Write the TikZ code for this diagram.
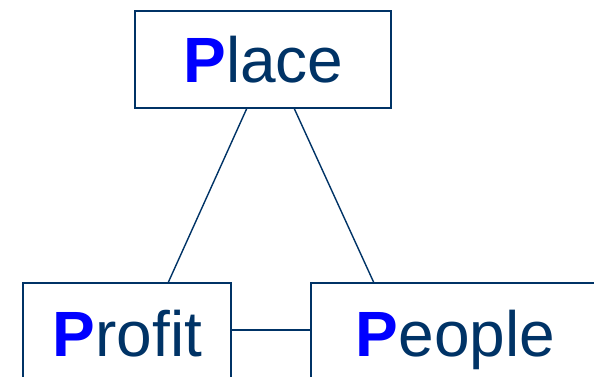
\documentclass[tikz,border=0pt]{standalone}
\usepackage{fontspec}
\setmainfont{Liberation Sans}
\definecolor{navy}{HTML}{003366}
\definecolor{pblue}{HTML}{0000FF}
\begin{document}
\begin{tikzpicture}[x=1pt,y=-1pt,
  box/.style={draw=navy,line width=1.4pt,inner sep=0pt,outer sep=0pt,fill=white},
  word/.style={anchor=base,inner sep=0pt,text=navy,font=\fontsize{64}{70}\selectfont},
  link/.style={draw=navy,line width=1.4pt}]
\useasboundingbox (0,0) rectangle (594,377);
\clip (0,0) rectangle (594,377);
\node[box,minimum width=256pt,minimum height=97pt] (place) at (263,59.5) {};
\node[box,minimum width=208pt,minimum height=117pt] (profit) at (127,341.5) {};
\node[box,minimum width=309pt,minimum height=117pt] (people) at (465.5,341.5) {};
\node[word] (placet) at (263.5,83) {\textcolor{pblue}{\textbf{P}}lace};
\node[word] (profitt) at (127.5,356) {\textcolor{pblue}{\textbf{P}}rofit};
\node[word] (peoplet) at (455.5,356) {\textcolor{pblue}{\textbf{P}}eople};
\draw[link] ([xshift=112pt]place.south west) -- ([xshift=145pt]profit.north west);
\draw[link] ([xshift=159pt]place.south west) -- ([xshift=63pt]people.north west);
\draw[link] ([yshift=-47pt]profit.north east) -- ([yshift=-47pt]people.north west);
\end{tikzpicture}
\end{document}
